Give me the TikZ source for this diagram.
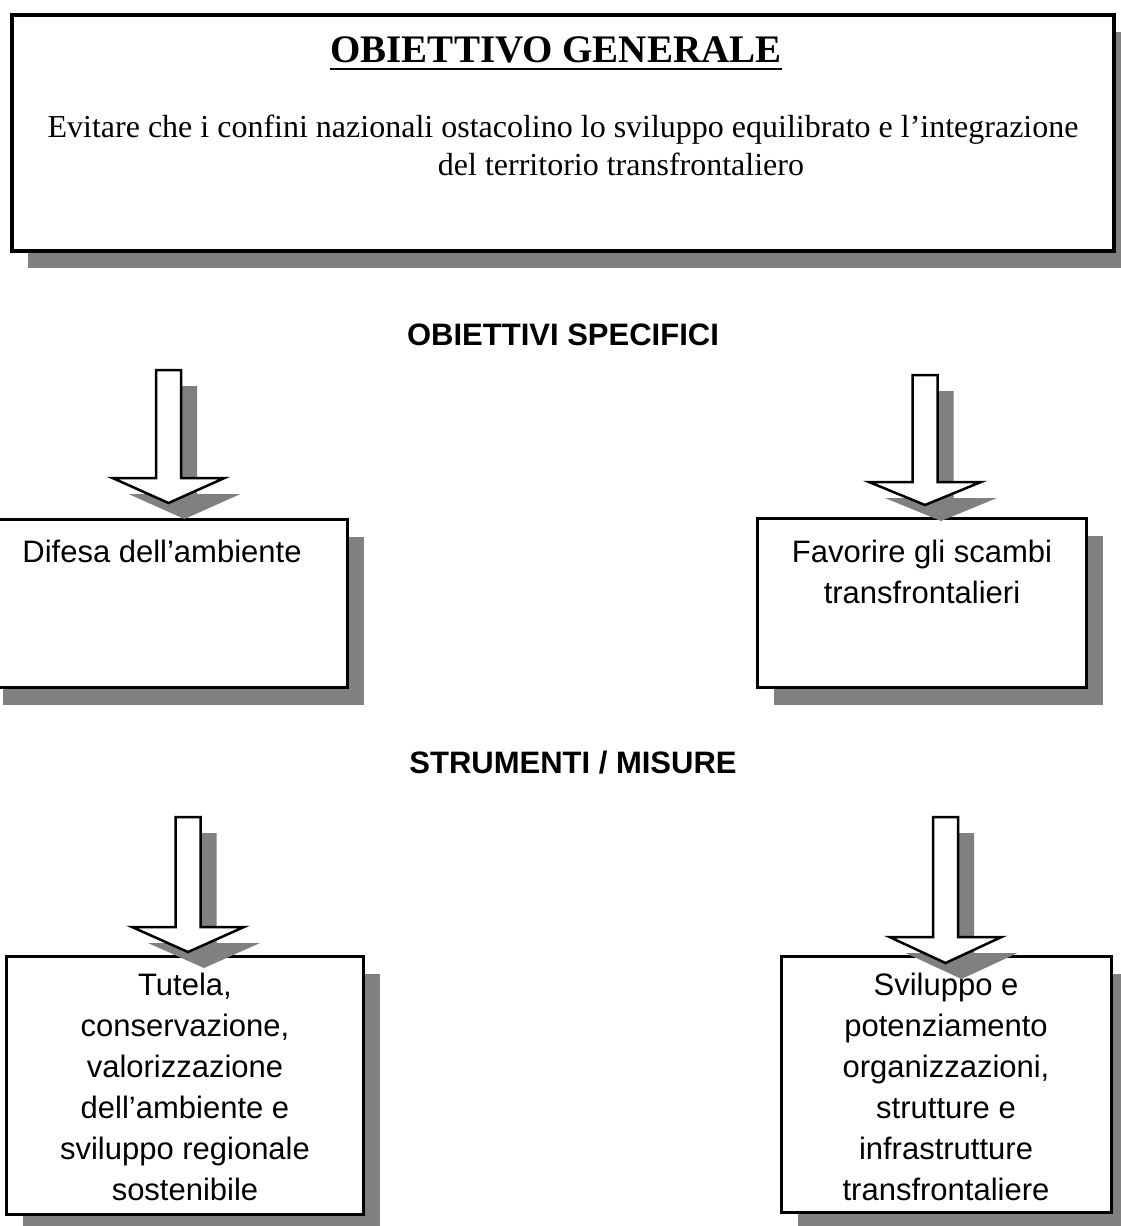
\documentclass[tikz,border=0pt]{standalone}
\usepackage{fontspec}
\setmainfont{Liberation Serif}
\setsansfont{Liberation Sans}
\definecolor{shadowgray}{HTML}{808080}

% block arrow pointing down: centre x, shaft top, head top, tip
\newcommand\downblock[4]{%
  \begin{scope}[shift={(16,16)}]
    \fill[shadowgray] (#1-12.5,#2) -- (#1+12.5,#2) -- (#1+12.5,#3) -- (#1+56,#3)
      -- (#1,#4) -- (#1-56,#3) -- (#1-12.5,#3) -- cycle;
  \end{scope}
  \draw[blockline] (#1-12.5,#2) -- (#1+12.5,#2) -- (#1+12.5,#3) -- (#1+56,#3)
      -- (#1,#4) -- (#1-56,#3) -- (#1-12.5,#3) -- cycle;
}

\begin{document}
\begin{tikzpicture}[x=1pt,y=-1pt,
  box/.style={draw=black, line width=3pt, fill=white, rectangle, inner sep=0pt,
    preaction={fill=shadowgray, draw=none, transform canvas={shift={(16pt,-17pt)}}}},
  blockline/.style={draw=black, fill=white, line width=2.5pt, line join=miter},
  serif/.style={inner sep=0pt, font=\fontsize{32}{38}\selectfont},
  heading/.style={inner sep=0pt, anchor=base, font=\sffamily\bfseries\fontsize{31}{36}\selectfont},
  boxtext/.style={inner sep=0pt, anchor=north, align=center, font=\sffamily\fontsize{31}{41}\selectfont}]
\useasboundingbox (0,0) rectangle (1121,1226);
\clip (0,0) rectangle (1121,1226);

% general objective
\node[box, line width=4pt, minimum width=1102pt, minimum height=236pt] (gen) at (563,133) {};
\node[inner sep=0pt, anchor=base, font=\bfseries\fontsize{39}{44}\selectfont] (gentitle) at (556,62) {OBIETTIVO GENERALE};
\draw[line width=2.5pt] ([yshift=-7pt]gentitle.base west) -- ([yshift=-7pt]gentitle.base east);
\node[serif, anchor=base] (genl1) at (563,137) {Evitare che i confini nazionali ostacolino lo sviluppo equilibrato e l’integrazione};
\node[serif, anchor=base] (genl2) at (621,175) {del territorio transfrontaliero};

% headings
\node[heading] (hspec) at (563,345) {OBIETTIVI SPECIFICI};
\node[heading] (hmis) at (573,773) {STRUMENTI / MISURE};

% specific objectives
\node[box, minimum width=361pt, minimum height=168pt] (ambiente) at (167,603.5) {};
\node[boxtext] (ambientetxt) at (162,540) {Difesa dell’ambiente};
\node[box, minimum width=329pt, minimum height=169pt] (scambi) at (922,603) {};
\node[boxtext] (scambitxt) at (922,540) {Favorire gli scambi\\transfrontalieri};

% measures
\node[box, minimum width=357pt, minimum height=258pt] (tutela) at (185,1085.5) {};
\node[boxtext] (tutelatxt) at (185,973) {Tutela,\\conservazione,\\valorizzazione\\dell’ambiente e\\sviluppo regionale\\sostenibile};
\node[box, minimum width=330pt, minimum height=256pt] (sviluppo) at (946.5,1084.5) {};
\node[boxtext] (sviluppotxt) at (946,973) {Sviluppo e\\potenziamento\\organizzazioni,\\strutture e\\infrastrutture\\transfrontaliere};

% block arrows
\downblock{168.5}{370}{478}{503}
\downblock{925}{375}{482}{505}
\downblock{188}{817}{927}{952}
\downblock{945.5}{817}{937}{963}
\end{tikzpicture}
\end{document}
